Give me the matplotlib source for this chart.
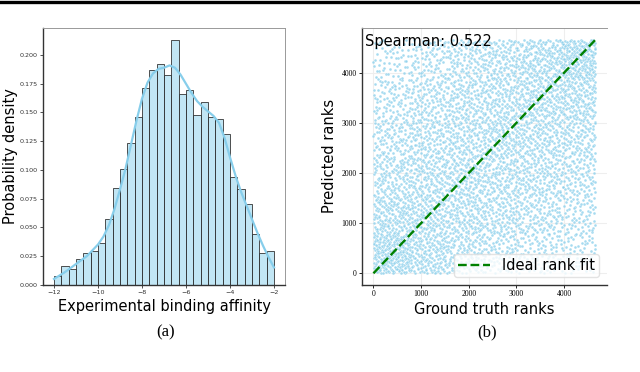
"""Two panels: histogram of experimental binding affinity (a) and
predicted vs ground-truth ranks scatter (b)."""
import matplotlib
matplotlib.use("Agg")
import matplotlib.pyplot as plt
from matplotlib.lines import Line2D
import numpy as np

# --- (a) histogram: 30 bins of width 1/3 from -12 to -2, density ---
BIN_START = -12.0
BIN_END = -2.0
hist_density = [0.008, 0.016, 0.014, 0.022, 0.028, 0.029, 0.036, 0.057, 0.084, 0.101,
                0.123, 0.146, 0.171, 0.187, 0.192, 0.183, 0.213, 0.166, 0.170, 0.148,
                0.159, 0.146, 0.144, 0.131, 0.094, 0.083, 0.070, 0.044, 0.028, 0.029]

kde_x = [-12.0, -11.5, -11.0, -10.5, -10.0, -9.75, -9.5, -9.25, -9.0, -8.75, -8.5,
         -8.25, -8.0, -7.75, -7.5, -7.25, -7.0, -6.75, -6.5, -6.25, -6.0, -5.75,
         -5.5, -5.25, -5.0, -4.75, -4.5, -4.25, -4.0, -3.75, -3.5, -3.25, -3.0,
         -2.75, -2.5, -2.25, -2.0]
kde_y = [0.005, 0.011, 0.018, 0.025, 0.035, 0.042, 0.052, 0.066, 0.083, 0.101, 0.122,
         0.143, 0.162, 0.176, 0.184, 0.188, 0.189, 0.191, 0.189, 0.183, 0.175, 0.167,
         0.160, 0.155, 0.151, 0.147, 0.141, 0.128, 0.111, 0.095, 0.081, 0.069, 0.057,
         0.045, 0.034, 0.024, 0.015]

# --- (b) rank scatter: point counts per 6x6 block (rows = predicted, bottom first;
#     cols = ground truth, left first), estimated from the point density ---
RANK_MAX = 4660
block_counts = [
    [235, 165, 125, 100, 82, 70],
    [165, 155, 140, 125, 107, 85],
    [125, 140, 145, 135, 125, 107],
    [107, 125, 135, 145, 140, 125],
    [85, 107, 125, 140, 155, 165],
    [60, 85, 107, 132, 168, 225],
]
spearman = 0.522

SKY = "#87CEEB"


def halton(i, base):
    f, r = 1.0, 0.0
    while i > 0:
        f /= base
        r += f * (i % base)
        i //= base
    return r


def rank_points():
    n = len(block_counts)
    step = RANK_MAX / n
    xs, ys = [], []
    offset = 1
    for row, counts in enumerate(block_counts):
        for col, k in enumerate(counts):
            for i in range(k):
                xs.append((col + halton(offset + i, 2)) * step)
                ys.append((row + halton(offset + i, 3)) * step)
            offset += k + 7
    return np.array(xs), np.array(ys)


fig = plt.figure(figsize=(6.4, 3.72), dpi=100)
fig.add_artist(Line2D([0, 1], [1 - 1.6 / 372, 1 - 1.6 / 372], color="black", lw=2.4))

# (a)
ax1 = fig.add_axes([43 / 640, 1 - 284.7 / 372, 242 / 640, 256.7 / 372])
edges = np.linspace(BIN_START, BIN_END, len(hist_density) + 1)
ax1.bar(edges[:-1], hist_density, width=np.diff(edges), align="edge",
        facecolor=(135 / 255, 206 / 255, 235 / 255, 0.5), edgecolor="#333333", linewidth=0.6)
ax1.plot(kde_x, kde_y, color=SKY, lw=1.6)
ax1.set_xlim(-12.5, -1.5)
ax1.set_ylim(0, 0.2236)
ax1.set_xticks([-12, -10, -8, -6, -4, -2])
ax1.set_yticks([0, 0.025, 0.05, 0.075, 0.1, 0.125, 0.15, 0.175, 0.2])
ax1.yaxis.set_major_formatter(matplotlib.ticker.FormatStrFormatter("%.3f"))
ax1.tick_params(labelsize=4.6, length=2, width=0.6, pad=2, colors="#333333")
ax1.set_xlabel("Experimental binding affinity", fontsize=10.5, labelpad=3)
ax1.set_ylabel("Probability density", fontsize=10.5, labelpad=1)
for side in ["top", "right"]:
    ax1.spines[side].set_color("#999999")
    ax1.spines[side].set_linewidth(0.7)
for side in ["left", "bottom"]:
    ax1.spines[side].set_color("#333333")
    ax1.spines[side].set_linewidth(1.0)

# (b)
ax2 = fig.add_axes([362.3 / 640, 1 - 284.7 / 372, 244.4 / 640, 256.7 / 372])
ax2.grid(True, color="#eeeeee", lw=0.8)
ax2.set_axisbelow(True)
px, py = rank_points()
ax2.scatter(px, py, s=4.5, color=SKY, edgecolor="white", linewidth=0.3, alpha=0.75)
ax2.plot([0, RANK_MAX], [0, RANK_MAX], "--", color="green", lw=1.7, label="Ideal rank fit")
ax2.set_xlim(-233, 4893)
ax2.set_ylim(-227, 4891)
ax2.set_xticks([0, 1000, 2000, 3000, 4000])
ax2.set_yticks([0, 1000, 2000, 3000, 4000])
ax2.tick_params(length=2, width=0.6, pad=2)
for lab in ax2.get_xticklabels() + ax2.get_yticklabels():
    lab.set_fontfamily("Liberation Serif")
    lab.set_fontsize(5.5)
ax2.set_xlabel("Ground truth ranks", fontsize=10.5, labelpad=3)
ax2.set_ylabel("Predicted ranks", fontsize=10.5, labelpad=3)
ax2.text(0.012, 0.975, f"Spearman: {spearman:.3f}", transform=ax2.transAxes,
         fontsize=10.5, va="top", ha="left")
ax2.legend(loc="lower right", fontsize=10.5, framealpha=0.8, edgecolor="#dddddd",
           borderpad=0.3, handlelength=2.2, borderaxespad=0.5)
ax2.spines["right"].set_visible(False)
ax2.spines["top"].set_color("#999999")
ax2.spines["top"].set_linewidth(0.7)
for side in ["left", "bottom"]:
    ax2.spines[side].set_color("#333333")
    ax2.spines[side].set_linewidth(1.0)

fig.text(166 / 640, 1 - 332 / 372, "(a)", fontfamily="Liberation Serif",
         fontsize=12, ha="center", va="center")
fig.text(487 / 640, 1 - 332 / 372, "(b)", fontfamily="Liberation Serif",
         fontsize=12, ha="center", va="center")

fig.savefig("out.png", dpi=100)
